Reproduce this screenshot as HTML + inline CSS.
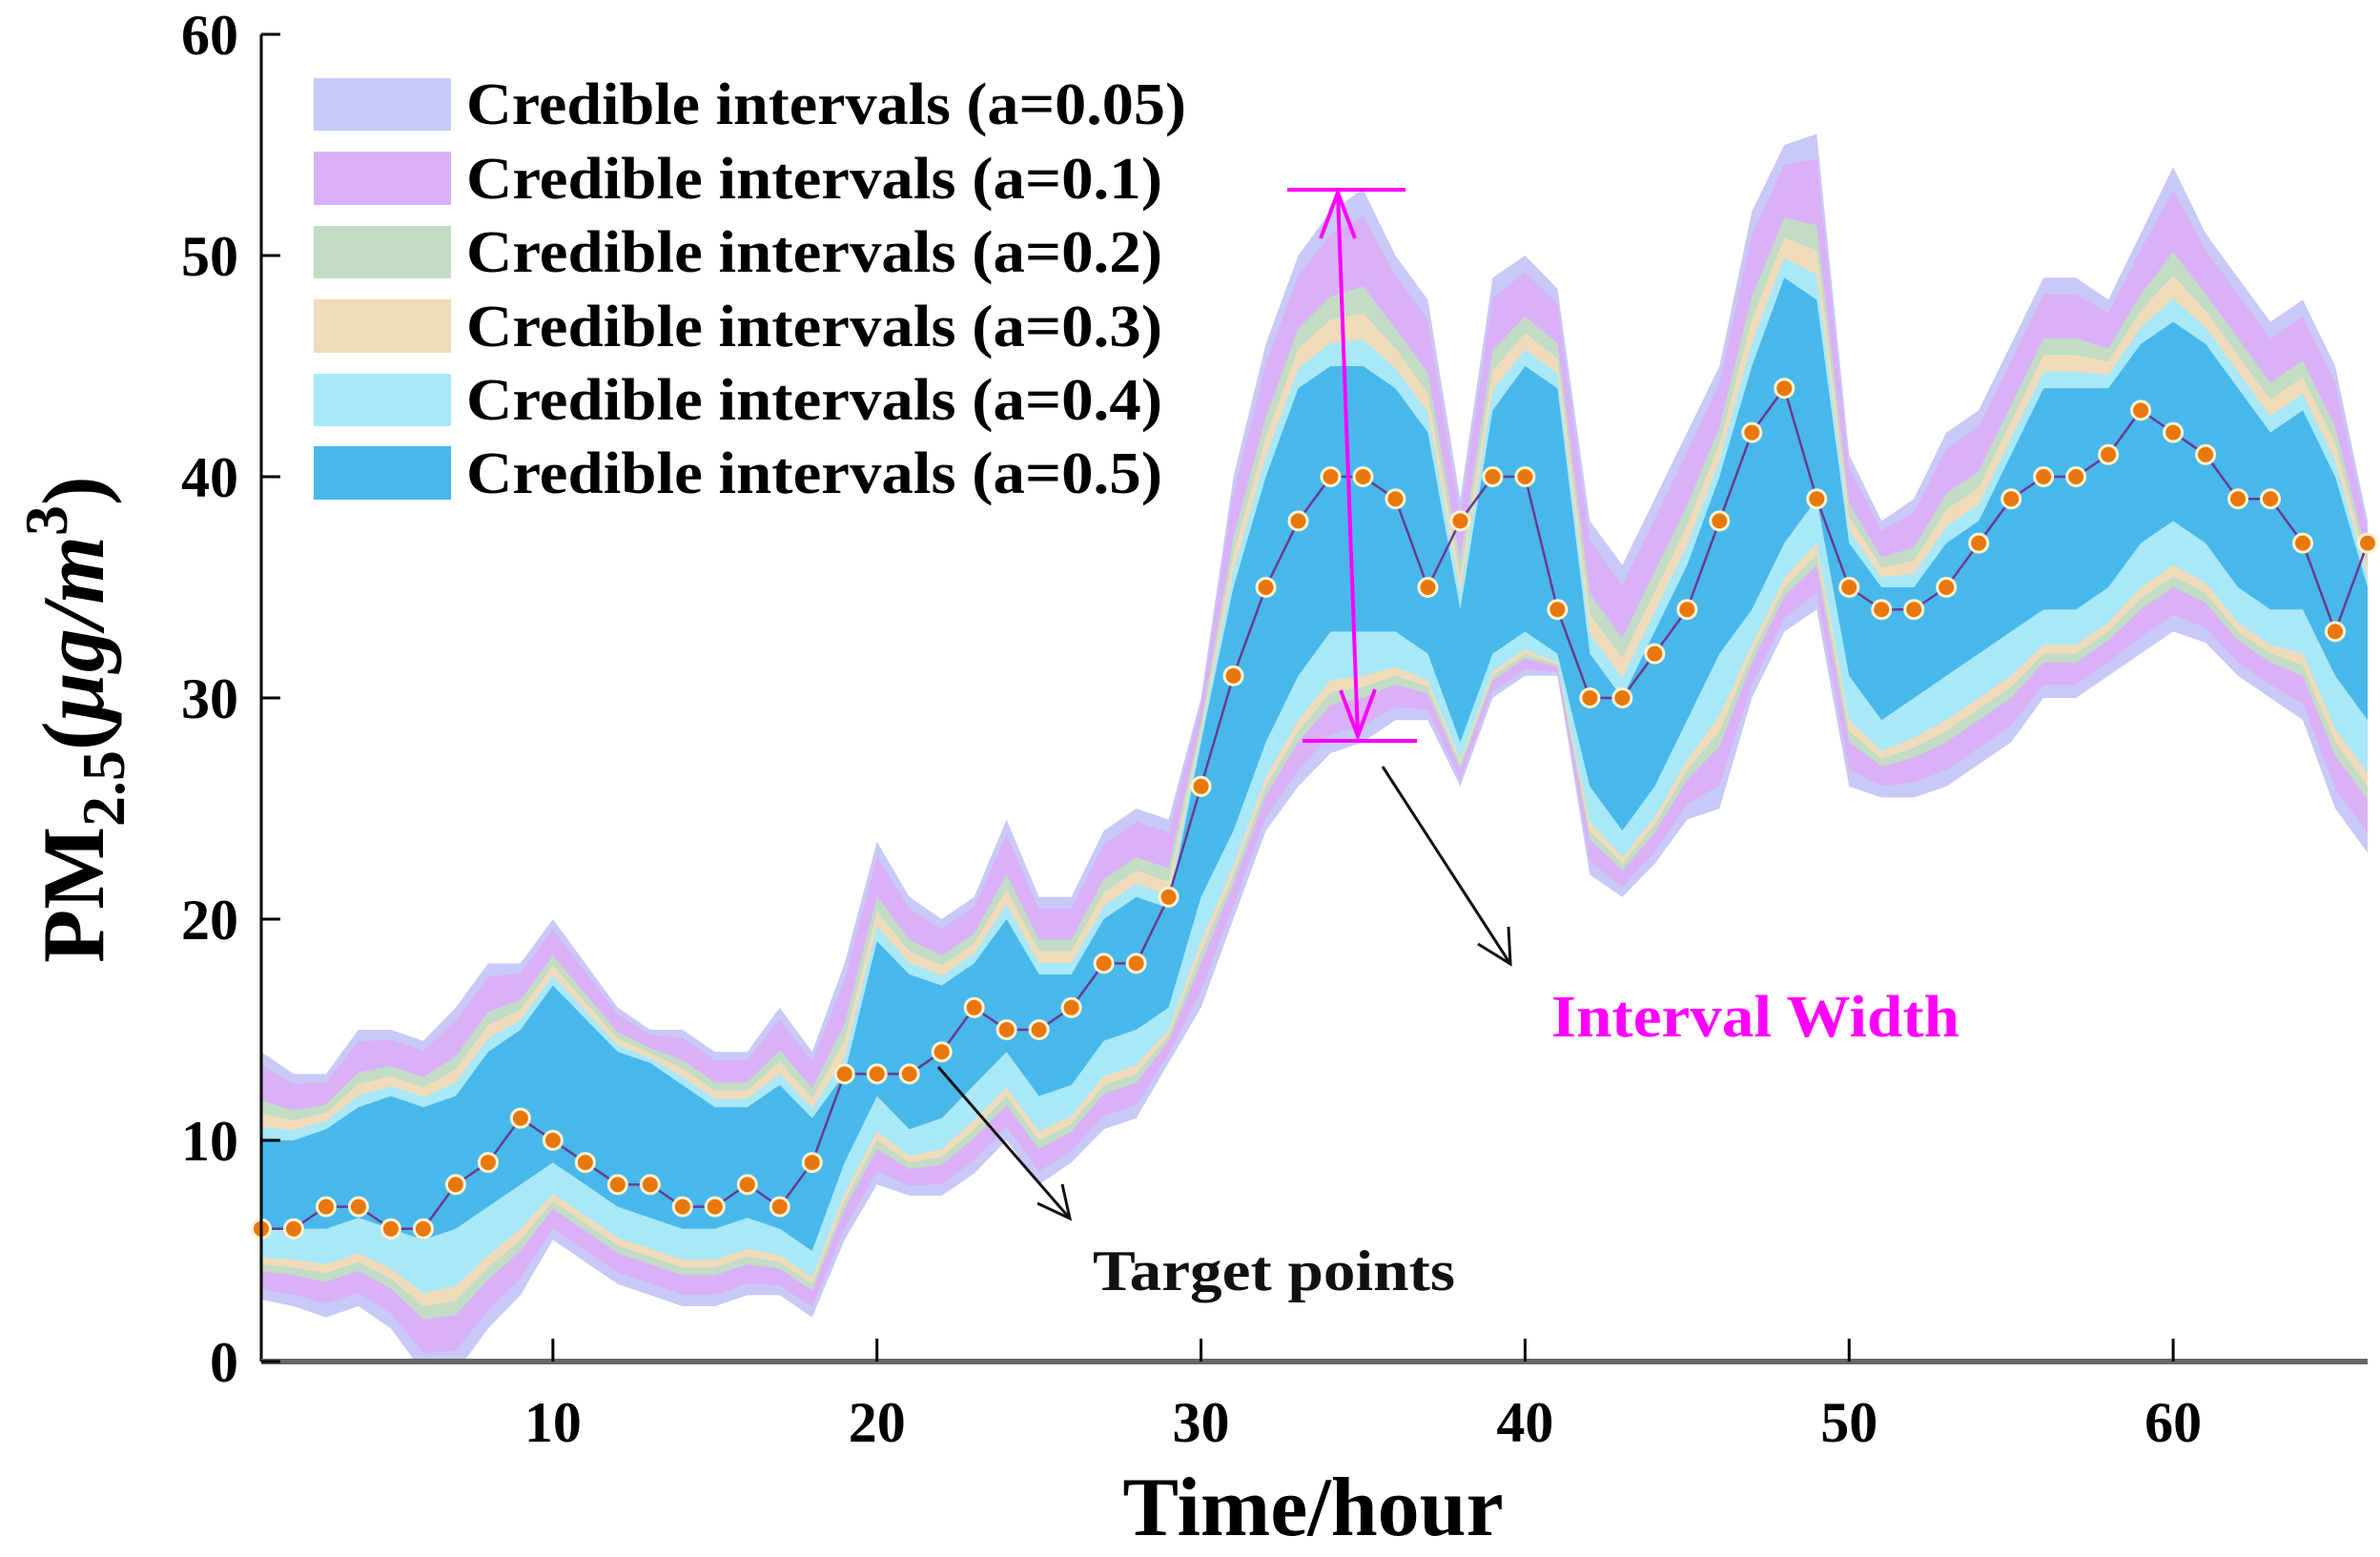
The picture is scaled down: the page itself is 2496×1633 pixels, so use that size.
<!DOCTYPE html>
<html><head><meta charset="utf-8"><style>
html,body{margin:0;padding:0;background:#fff;}
svg{display:block;font-family:"Liberation Serif",serif;font-weight:bold;}
</style></head><body>
<svg id="chart" width="2496" height="1633" viewBox="0 0 2496 1633" xmlns="http://www.w3.org/2000/svg">
<g id="bands"></g>
<g id="series"></g>
<g id="axes"></g>
<g>
  <rect x="329" y="82" width="144" height="55" fill="#c8c9f6"/>
  <text x="489" y="130" font-size="62" textLength="755" lengthAdjust="spacingAndGlyphs">Credible intervals (a=0.05)</text>
  <rect x="329" y="159" width="144" height="56" fill="#d9b0f6"/>
  <text x="489" y="208" font-size="62" textLength="730" lengthAdjust="spacingAndGlyphs">Credible intervals (a=0.1)</text>
  <rect x="329" y="237" width="144" height="55" fill="#c2dcc6"/>
  <text x="489" y="285" font-size="62" textLength="730" lengthAdjust="spacingAndGlyphs">Credible intervals (a=0.2)</text>
  <rect x="329" y="314" width="144" height="56" fill="#f0dcbb"/>
  <text x="489" y="363" font-size="62" textLength="730" lengthAdjust="spacingAndGlyphs">Credible intervals (a=0.3)</text>
  <rect x="329" y="392" width="144" height="55" fill="#a9e8f8"/>
  <text x="489" y="440" font-size="62" textLength="730" lengthAdjust="spacingAndGlyphs">Credible intervals (a=0.4)</text>
  <rect x="329" y="468" width="144" height="56" fill="#48b8ea"/>
  <text x="489" y="517" font-size="62" textLength="730" lengthAdjust="spacingAndGlyphs">Credible intervals (a=0.5)</text>
</g>
<g stroke="#ff00ff" stroke-width="4" fill="none">
  <line x1="1350" y1="199" x2="1474" y2="199"/>
  <line x1="1366" y1="777" x2="1486" y2="777"/>
  <line x1="1403" y1="202" x2="1424" y2="772"/>
  <polyline points="1385,250 1403,202 1421,250"/>
  <polyline points="1406,724 1424,772 1442,723"/>
</g>
<g stroke="#111" stroke-width="3" fill="none">
  <line x1="1450" y1="804" x2="1584" y2="1011"/>
  <polyline points="1550,990 1584,1011 1582,972"/>
</g>
<text x="1627" y="1087" font-size="62" fill="#ff00ff" textLength="428" lengthAdjust="spacingAndGlyphs">Interval Width</text>
<g stroke="#111" stroke-width="3" fill="none">
  <line x1="984" y1="1119" x2="1122" y2="1278"/>
  <polyline points="1088,1262 1122,1278 1114,1242"/>
</g>
<text x="1146" y="1353" font-size="60" fill="#111" textLength="380" lengthAdjust="spacingAndGlyphs">Target points</text>
<text x="1377" y="1610" font-size="88" text-anchor="middle" fill="#000">Time/hour</text>
<text transform="translate(108,1010) rotate(-90)" font-size="92" fill="#000">PM<tspan font-size="64" dy="22">2.5</tspan><tspan dy="-22">(</tspan><tspan font-style="italic">μg/m</tspan><tspan font-size="64" dy="-38">3</tspan><tspan dy="38">)</tspan></text>
</svg>
<script>
const hours = [];
for (let i = 1; i <= 66; i++) hours.push(i);
const target = [6,6,7,7,6,6,8,9,11,10,9,8,8,7,7,8,7,9,13,13,13,14,16,15,15,16,18,18,21,26,31,35,38,40,40,39,35,38,40,40,34,30,30,32,34,38,42,44,39,35,34,34,35,37,39,40,40,41,43,42,41,39,39,37,33,37];
const upper005 = [14,13,13,15,15,14.5,16,18,18,20,18,16,15,15,14,14,16,14,18,23.5,21,20,21,24.5,21,21,24,25,24.5,30,40,46,50,52,53,50,48,39,49,50,48.5,38,36,39,42,45,52,55,55.5,41,38,39,42,43,46,49,49,48,51,54,51,49,47,48,45,38];
const upper05 = [10,10,10.5,11.5,12,11.5,12,14,15,17,15.5,14,13.5,12.5,11.5,11.5,12.5,11,13,19,17.5,17,18,20,17.5,17.5,20,21,20.5,28,35,40,44,45,45,44,42,34,43,45,44,32,30,33,36,40,45,49,48,37,35,35,37,38,41,44,44,44,46,47,46,44,42,43,40,35];
const lower05 = [6,6,6,6.5,6,5.5,6,7,8,9,8,7,6.5,6,6,6.5,6,5,9,12,10.5,11,12.5,14,12,12.5,14.5,15,16,21,24,28,31,33,33,33,32,28,32,33,32,26,24,26,29,32,34,37,39,31,29,30,31,32,33,34,34,35,37,38,37,35,34,34,31,29];
const lower005 = [2.8,2.5,2,2.5,1.5,-0.5,-0.5,1.5,3,5.5,4.5,3.5,3,2.5,2.5,3,3,2,5.5,8,7.5,7.5,8.5,10,8,9,10.5,11,13.5,16,20,24,26,27.5,28,29,29,26,30,31,31,22,21,22.5,24.5,25,30,33,34,26,25.5,25.5,26,27,28,30,30,31,32,33,32.5,31,30,29,25,23];
const levelNames = ['0.05','0.1','0.2','0.3','0.4','0.5'];
const levelColors = ['#c8c9f6','#d9b0f6','#c2dcc6','#f0dcbb','#a9e8f8','#48b8ea'];
const levelShare = [0,0.15,0.55,0.7,0.85,1];
const lowerShare = [0,0.15,0.4,0.5,0.6,1];
const yTicks = [0,10,20,30,40,50,60];
const xTicks = [10,20,30,40,50,60];

const X0 = 274, X1 = 2483, Y0 = 1428, Y1 = 36;
const xS = v => X0 + (v - 1) / (66 - 1) * (X1 - X0);
const yS = v => Y0 - v / 60 * (Y0 - Y1);
const NS = 'http://www.w3.org/2000/svg';

const bands = document.getElementById('bands');
const clip = document.createElementNS(NS, 'clipPath');
clip.setAttribute('id', 'plotclip');
const cr = document.createElementNS(NS, 'rect');
cr.setAttribute('x', X0); cr.setAttribute('y', 0); cr.setAttribute('width', X1 - X0); cr.setAttribute('height', Y0);
clip.appendChild(cr);
bands.appendChild(clip);
bands.setAttribute('clip-path', 'url(#plotclip)');

levelNames.forEach((name, k) => {
  const f = levelShare[k], g = lowerShare[k];
  const up = hours.map((h, i) => upper005[i] - f * (upper005[i] - upper05[i]));
  const lo = hours.map((h, i) => lower005[i] + g * (lower05[i] - lower005[i]));
  let d = 'M' + hours.map((h, i) => xS(h) + ',' + yS(up[i])).join(' L');
  d += ' L' + hours.slice().reverse().map((h, j) => { const i = hours.length - 1 - j; return xS(h) + ',' + yS(lo[i]); }).join(' L') + ' Z';
  const p = document.createElementNS(NS, 'path');
  p.setAttribute('d', d);
  p.setAttribute('fill', levelColors[k]);
  
  
  bands.appendChild(p);
});

const series = document.getElementById('series');
const line = document.createElementNS(NS, 'polyline');
line.setAttribute('points', hours.map((h, i) => xS(h) + ',' + yS(target[i])).join(' '));
line.setAttribute('fill', 'none');
line.setAttribute('stroke', '#6a3a90');
line.setAttribute('stroke-width', '2.5');


series.appendChild(line);
hours.forEach((h, i) => {
  const c = document.createElementNS(NS, 'circle');
  c.setAttribute('cx', xS(h)); c.setAttribute('cy', yS(target[i])); c.setAttribute('r', 9.5);
  c.setAttribute('fill', '#e8780e'); c.setAttribute('stroke', '#fff3d0'); c.setAttribute('stroke-width', 3);
  
  
  series.appendChild(c);
});

const axes = document.getElementById('axes');
function mk(tag, attrs) { const e = document.createElementNS(NS, tag); for (const k in attrs) e.setAttribute(k, attrs[k]); axes.appendChild(e); return e; }
const ya = mk('line', {x1: X0, y1: Y1, x2: X0, y2: Y0, stroke: '#000', 'stroke-width': 3});


const xa = mk('line', {x1: X0, y1: Y0, x2: X1, y2: Y0, stroke: '#666', 'stroke-width': 6});


yTicks.forEach(v => {
  const t = mk('line', {x1: X0, y1: yS(v), x2: X0 + 20, y2: yS(v), stroke: '#000', 'stroke-width': 3});
  
  
  const l = mk('text', {x: 250, y: yS(v) + 21, 'font-size': 60, 'text-anchor': 'end', fill: '#000'});
  l.textContent = v;
  
  
});
xTicks.forEach(v => {
  const t = mk('line', {x1: xS(v), y1: Y0, x2: xS(v), y2: Y0 - 24, stroke: '#000', 'stroke-width': 3});
  
  
  const l = mk('text', {x: xS(v), y: 1512, 'font-size': 60, 'text-anchor': 'middle', fill: '#000'});
  l.textContent = v;
  
  
});
</script>
</body></html>
